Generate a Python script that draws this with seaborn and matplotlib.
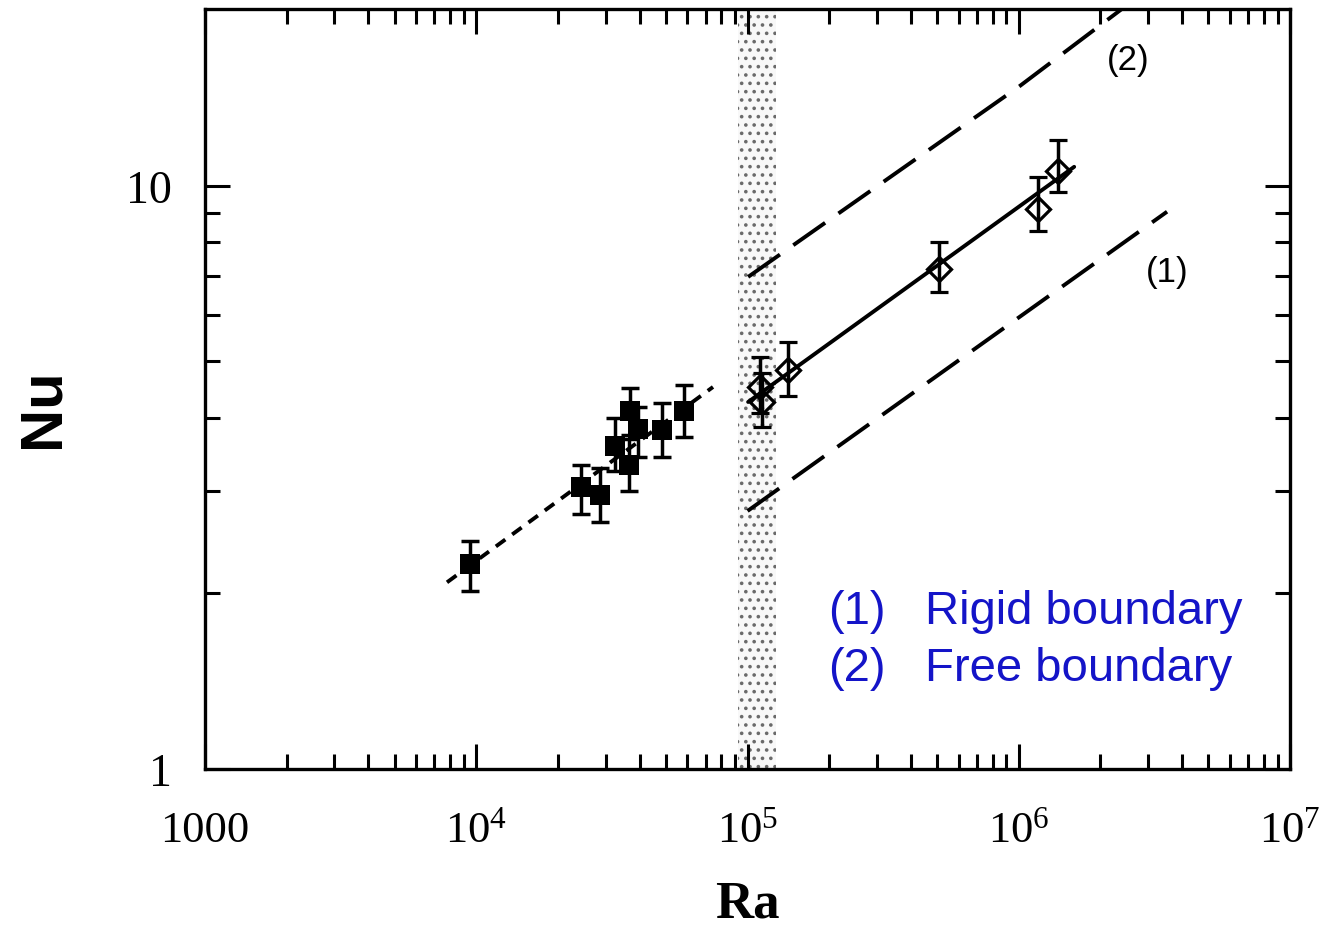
import numpy as np
import pandas as pd
import matplotlib
matplotlib.use("Agg")
import matplotlib.pyplot as plt
import seaborn as sns

# ---------------- data ----------------
sq_ra = [9480, 24300, 28600, 32500, 36900, 36600, 39500, 48400, 58300]
sq_nu = [2.25, 3.05, 2.95, 3.58, 4.11, 3.32, 3.83, 3.82, 4.11]
sq_lo = [2.02, 2.74, 2.65, 3.24, 3.74, 3.00, 3.43, 3.43, 3.71]
sq_hi = [2.46, 3.32, 3.28, 4.00, 4.50, 3.68, 4.18, 4.24, 4.56]

dm_ra = [111200, 113100, 141000, 508000, 1178000, 1395000]
dm_nu = [4.52, 4.26, 4.83, 7.21, 9.13, 10.61]
dm_lo = [4.08, 3.86, 4.36, 6.58, 8.37, 9.77]
dm_hi = [5.09, 4.78, 5.40, 8.02, 10.36, 11.99]

fit_sq_ra = [7800, 74600]
fit_sq_nu = [2.09, 4.52]
fit_dm_ra = [100500, 1600000]
fit_dm_nu = [4.26, 10.78]
rigid_ra = [100000, 3520000]
rigid_nu = [2.77, 9.03]
free_ra = [100500, 1010000, 2500000]
free_nu = [6.98, 14.84, 20.4]

band_ra = [92000, 127000]

x_ticks = [1e3, 1e4, 1e5, 1e6, 1e7]
x_ticklabels = ["1000", r"$10^{4}$", r"$10^{5}$", r"$10^{6}$", r"$10^{7}$"]
y_ticks = [1, 10]
y_ticklabels = ["1", "10"]
x_lim = [1e3, 1e7]
y_lim = [1, 20.1]

legend_lines = ["(1)", "(2)"]
legend_names = ["Rigid boundary", "Free boundary"]

# ---------------- style ----------------
sns.set_style("ticks")
plt.rcParams["font.family"] = ["Liberation Serif", "DejaVu Serif"]
plt.rcParams["mathtext.fontset"] = "custom"
plt.rcParams["mathtext.rm"] = "Liberation Serif"
plt.rcParams["mathtext.it"] = "Liberation Serif:italic"
plt.rcParams["hatch.linewidth"] = 1.4
for k in ["text.color", "axes.labelcolor", "xtick.color", "ytick.color",
          "axes.edgecolor"]:
    plt.rcParams[k] = "black"

fig = plt.figure(figsize=(13.26, 9.29), dpi=100)
ax = fig.add_axes([0.1546, 0.1711, 0.8183, 0.8181])
ax.set_xscale("log")
ax.set_yscale("log")
ax.set_xlim(*x_lim)
ax.set_ylim(*y_lim)

# shaded transition band
ax.axvspan(band_ra[0], band_ra[1], facecolor="#f8f8f8", edgecolor="#6a6a6a",
           hatch="..", linewidth=0, zorder=0)

lw = 2.8
# theory lines
sns.lineplot(x=rigid_ra, y=rigid_nu, ax=ax, color="k", lw=lw,
             linestyle=(0, (10, 4.2)), legend=False, zorder=2)
sns.lineplot(x=free_ra, y=free_nu, ax=ax, color="k", lw=lw,
             linestyle=(0, (10, 4.2)), legend=False, zorder=2)
# fits
sns.lineplot(x=fit_sq_ra, y=fit_sq_nu, ax=ax, color="k", lw=lw,
             linestyle=(0, (3, 2.2)), legend=False, zorder=2)
sns.lineplot(x=fit_dm_ra, y=fit_dm_nu, ax=ax, color="k", lw=lw,
             linestyle="-", legend=False, zorder=2)

ebw = 2.5
# error bars
ax.errorbar(sq_ra, sq_nu,
            yerr=[np.subtract(sq_nu, sq_lo), np.subtract(sq_hi, sq_nu)],
            fmt="none", ecolor="k", elinewidth=ebw, capsize=6.5, capthick=ebw,
            zorder=3)
sns.scatterplot(x=sq_ra, y=sq_nu, ax=ax, marker="s", s=14 ** 2, color="k",
                edgecolor="k", linewidth=0, zorder=4, legend=False)

ax.errorbar(dm_ra, dm_nu,
            yerr=[np.subtract(dm_nu, dm_lo), np.subtract(dm_hi, dm_nu)],
            fmt="D", ms=12.5, mfc="none", mec="k", mew=2.3,
            ecolor="k", elinewidth=ebw, capsize=6.5, capthick=ebw, zorder=4)

# annotations
ax.text(2.53e6, 16.5, "(2)", fontsize=25, family=["Liberation Sans"],
        ha="center", va="center")
ax.text(3.52e6, 7.12, "(1)", fontsize=25, family=["Liberation Sans"],
        ha="center", va="center")
blue = "#1414C8"
for i, (tag, name) in enumerate(zip(legend_lines, legend_names)):
    yv = [1.87, 1.49][i]
    ax.text(1.98e5, yv, tag, fontsize=34, family=["Liberation Sans"],
            color=blue, ha="left", va="center")
    ax.text(4.51e5, yv, name, fontsize=34, family=["Liberation Sans"],
            color=blue, ha="left", va="center")

# ticks
ax.set_xticks(x_ticks)
ax.set_xticklabels(x_ticklabels)
ax.xaxis.set_minor_locator(matplotlib.ticker.LogLocator(base=10, subs=np.arange(2, 10)))
ax.xaxis.set_minor_formatter(matplotlib.ticker.NullFormatter())
ax.set_yticks(y_ticks)
ax.set_yticklabels(y_ticklabels)
ax.set_yticks([2, 3, 4, 5, 6, 7, 8, 9], minor=True)
ax.yaxis.set_minor_formatter(matplotlib.ticker.NullFormatter())

ax.tick_params(which="both", direction="in", top=True, right=True,
               width=2.2, color="k")
ax.tick_params(which="major", length=18)
ax.tick_params(which="minor", length=11)
ax.tick_params(axis="x", which="major", labelsize=32, pad=52)
ax.tick_params(axis="y", which="major", labelsize=33, pad=24)
for lab in ax.get_xticklabels():
    lab.set_verticalalignment("baseline")

for s in ax.spines.values():
    s.set_linewidth(2.4)
    s.set_color("k")

ax.set_xlabel("Ra", fontsize=38, fontweight="bold", family=["Liberation Serif"])
ax.xaxis.label.set_verticalalignment("baseline")
ax.xaxis.set_label_coords(0.5, -0.194)
ax.set_ylabel("Nu", fontsize=43, fontweight="bold", family=["Liberation Sans"])
ax.yaxis.set_label_coords(-0.124, 0.476)

fig.savefig("out.png", dpi=100)
